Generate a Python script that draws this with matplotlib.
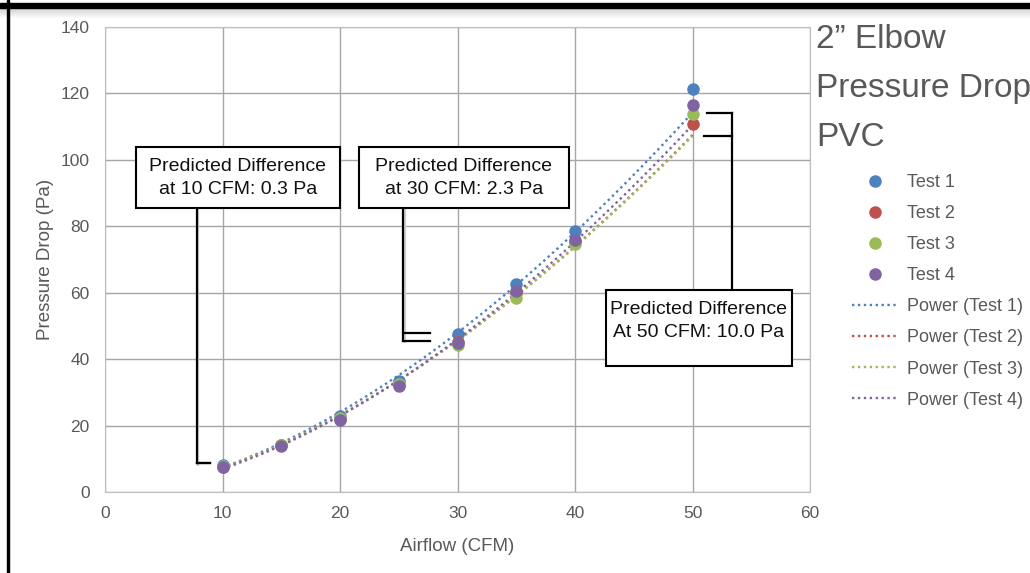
import numpy as np
import matplotlib.pyplot as plt
from matplotlib.patches import Rectangle

plt.rcParams['font.family'] = ['Liberation Sans', 'DejaVu Sans']

# -----------------------------
# Data
# -----------------------------
airflow = [10, 15, 20, 25, 30, 35, 40, 50]
test1 = [8.0, 14.3, 22.8, 33.5, 47.5, 62.5, 78.5, 121.2]
test2 = [7.6, 14.2, 22.0, 32.2, 45.2, 59.8, 75.2, 110.8]
test3 = [7.7, 14.1, 22.3, 32.4, 44.3, 58.4, 74.6, 113.8]
test4 = [7.4, 14.0, 21.6, 32.0, 45.0, 60.5, 76.0, 116.6]
series_names = ["Test 1", "Test 2", "Test 3", "Test 4"]
colors = ["#4F81BD", "#C0504D", "#9BBB59", "#8064A2"]

notes = ["Predicted Difference\nat 10 CFM: 0.3 Pa",
         "Predicted Difference\nat 30 CFM: 2.3 Pa",
         "Predicted Difference\nAt 50 CFM: 10.0 Pa"]
note_cfm = [10, 30, 50]

title_lines = ["2\u201d Elbow", "Pressure Drop", "PVC"]

W, H = 1030, 573
fig = plt.figure(figsize=(W / 100, H / 100), dpi=100)
ax = fig.add_axes([105 / W, (H - 492) / H, 705 / W, 465 / H])

# power trendlines (fit in log space like Excel)
x = np.array(airflow, dtype=float)
fits = []
for vals in [test1, test2, test3, test4]:
    b, loga = np.polyfit(np.log(x), np.log(vals), 1)
    fits.append((np.exp(loga), b))
xs = np.linspace(10, 50, 200)

for vals, name, c in zip([test1, test2, test3, test4], series_names, colors):
    ax.plot(airflow, vals, "o", color=c, markersize=8, zorder=4, label=name)

for (a, b), name, c in zip(fits, series_names, colors):
    ax.plot(xs, a * xs ** b, color=c, lw=1.7, ls=(0, (1, 1.5)), zorder=3,
            label="Power (" + name + ")")

ax.set_xlim(0, 60)
ax.set_ylim(0, 140)
ax.set_xticks(range(0, 61, 10))
ax.set_yticks(range(0, 141, 20))
ax.grid(True, color="#a6a6a6", lw=1)
for s in ax.spines.values():
    s.set_color("#bfbfbf")
ax.tick_params(length=0, labelcolor="#595959", labelsize=12.5)
ax.tick_params(axis="y", pad=11)
ax.tick_params(axis="x", pad=10)
ax.set_xlabel("Airflow (CFM)", fontsize=13.5, color="#595959", labelpad=12)
ax.set_ylabel("Pressure Drop (Pa)", fontsize=13.5, color="#595959", labelpad=5)

# annotation boxes (data coords)
boxes = [(2.6, 85.5, 17.4, 18.4), (21.6, 85.5, 17.9, 18.4), (42.6, 38.0, 15.9, 22.8)]
for (bx, by, bw, bh), txt in zip(boxes, notes):
    ax.add_patch(Rectangle((bx, by), bw, bh, facecolor="white", edgecolor="black",
                           lw=1.5, zorder=6, clip_on=False))
    ax.text(bx + bw / 2, by + bh - 3.3, txt, ha="center", va="top", fontsize=14,
            color="#111111", zorder=7, linespacing=1.45)

# bracket leaders to the trendline values
def bracket(xv, xh, y_hi, y_lo, y_box):
    kw = dict(color="black", lw=1.6, zorder=5, clip_on=False)
    sh = dict(color="#cfcfcf", lw=1.6, zorder=4.5, clip_on=False)
    ax.plot([xv + 0.15, xv + 0.15], [y_box, y_lo - 0.6], **sh)
    ax.plot([xv, xv], [y_box, y_lo], **kw)
    ax.plot([xv, xh], [y_hi, y_hi], **kw)
    ax.plot([xv, xh], [y_lo, y_lo], **kw)

preds = [[a * c ** b for a, b in fits] for c in note_cfm]
bracket(7.8, 8.9, max(preds[0]) + 1.2, max(preds[0]) + 1.2, 85.5)
bracket(25.4, 27.7, max(preds[1]), min(preds[1]), 85.5)
ax.plot([51.2, 53.4], [max(preds[2]), max(preds[2])], color="black", lw=1.6, clip_on=False, zorder=5)
ax.plot([51.0, 53.4], [min(preds[2]), min(preds[2])], color="black", lw=1.6, clip_on=False, zorder=5)
ax.plot([53.4, 53.4], [max(preds[2]), 60.8], color="black", lw=1.6, clip_on=False, zorder=5)

# title at right
for i, t in enumerate(title_lines):
    fig.text(816 / W, 1 - (40 + 49 * i) / H, t, fontsize=24, color="#595959",
             ha="left", va="center")

# legend
handles, labels = ax.get_legend_handles_labels()
fig.legend(handles, labels, loc="upper left", bbox_to_anchor=(852 / W, 1 - 174 / H),
           frameon=False, fontsize=13, labelspacing=0.78, handlelength=2.6,
           handletextpad=0.45, labelcolor="#595959", borderaxespad=0, borderpad=0)

# screenshot frame
fig.patches.append(Rectangle((0, 1 - 7.5 / H), 1, 4.5 / H, transform=fig.transFigure,
                             color="black", zorder=10))
for k in range(10):
    fig.patches.append(Rectangle((0, 1 - (8 + k + 1) / H), 1, 1 / H, transform=fig.transFigure,
                                 color="#808080", alpha=0.35 * (1 - k / 10), lw=0, zorder=9))
fig.patches.append(Rectangle((6.5 / W, 0), 2.5 / W, 1, transform=fig.transFigure,
                             color="black", zorder=10))

fig.savefig("out.png", dpi=100)
